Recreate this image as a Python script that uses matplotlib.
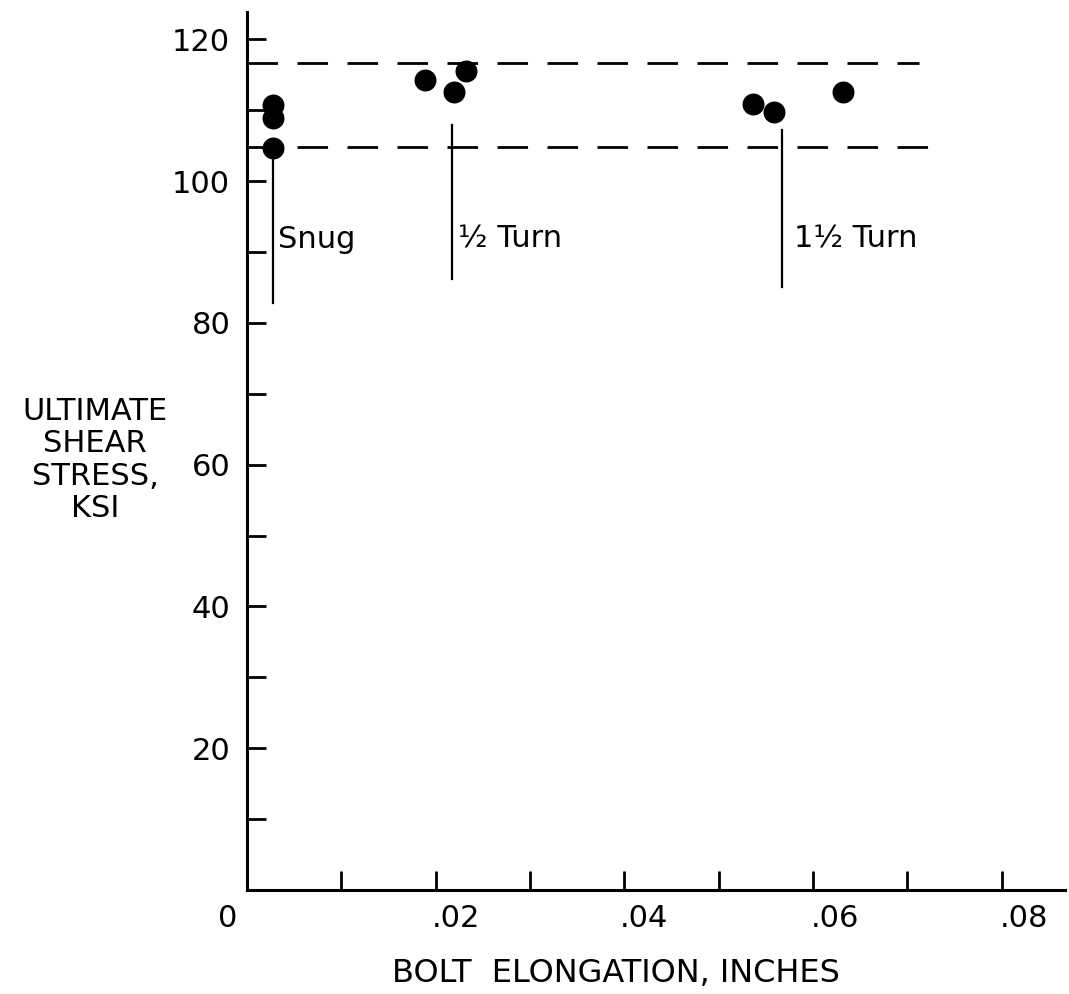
import matplotlib
matplotlib.use("Agg")
import matplotlib.pyplot as plt
import matplotlib.transforms as mtransforms

# measured points (bolt elongation in inches, ultimate shear stress in ksi)
snug_x = [0.0028, 0.0028, 0.0028]
snug_y = [110.7, 108.9, 104.7]
half_x = [0.0189, 0.0220, 0.0232]
half_y = [114.3, 112.5, 115.5]
onehalf_x = [0.0537, 0.0559, 0.0632]
onehalf_y = [110.8, 109.8, 112.5]

# scatter band limits
band_upper = 116.7
band_lower = 104.8
band_upper_end = 0.0712
band_lower_end = 0.0724

# condition markers: x, y range, label
cond_x = [0.0028, 0.0217, 0.0567]
cond_ytop = [103.3, 107.9, 107.2]
cond_ybot = [82.8, 86.2, 85.0]
cond_labels = ["Snug", "½ Turn", "1½ Turn"]
cond_text_x = [0.0033, 0.0224, 0.0580]
cond_text_y = 91.8

x_ticks = [i * 0.01 for i in range(9)]
x_ticklabels = ["0", "", ".02", "", ".04", "", ".06", "", ".08"]
y_ticks = list(range(10, 121, 10))
y_ticklabels = ["" if v % 20 else str(v) for v in y_ticks]

plt.rcParams['font.family'] = ['DejaVu Sans']

fig = plt.figure(figsize=(10.69, 9.94), dpi=100)
ax = fig.add_axes([0.231, 0.1046, 0.765, 0.883])

ax.set_xlim(0, 0.0867)
ax.set_ylim(0, 123.8)

for sp in ["top", "right"]:
    ax.spines[sp].set_visible(False)
for sp in ["left", "bottom"]:
    ax.spines[sp].set_linewidth(2.2)

# dashed band
ax.plot([0, band_upper_end], [band_upper, band_upper], color="black", lw=2,
        dashes=(11, 7))
ax.plot([0, band_lower_end], [band_lower, band_lower], color="black", lw=2,
        dashes=(11, 7))

# data points
dots = dict(s=250, color="black", zorder=3, linewidths=0)
ax.scatter(snug_x, snug_y, **dots)
ax.scatter(half_x, half_y, **dots)
ax.scatter(onehalf_x, onehalf_y, **dots)

# tightening condition lines and labels
for x, yt, yb, lab, tx in zip(cond_x, cond_ytop, cond_ybot, cond_labels, cond_text_x):
    ax.plot([x, x], [yb, yt], color="black", lw=1.6)
    ax.text(tx, cond_text_y, lab, fontsize=22, va="center", ha="left")

# ticks
ax.set_xticks(x_ticks)
ax.set_xticklabels(x_ticklabels)
ax.set_yticks(y_ticks)
ax.set_yticklabels(y_ticklabels)
ax.tick_params(axis="both", direction="in", length=14, width=2, labelsize=22)
ax.tick_params(axis="y", pad=12)
ax.tick_params(axis="x", pad=10)

# nudge x tick labels like the hand-lettered original
offs = [-19, 0, 20, 0, 20, 0, 22, 0, 22]
for lab, dx in zip(ax.get_xticklabels(), offs):
    lab.set_transform(lab.get_transform() +
                      mtransforms.ScaledTranslation(dx / 100, 0, fig.dpi_scale_trans))

fig.text(616 / 1069, 1 - 973 / 994, "BOLT  ELONGATION, INCHES",
         fontsize=23, ha="center", va="center")
fig.text(95 / 1069, 1 - 460 / 994, "ULTIMATE\nSHEAR\nSTRESS,\nKSI",
         fontsize=22, ha="center", va="center", multialignment="center",
         linespacing=1.15)

fig.savefig("out.png", dpi=100)
